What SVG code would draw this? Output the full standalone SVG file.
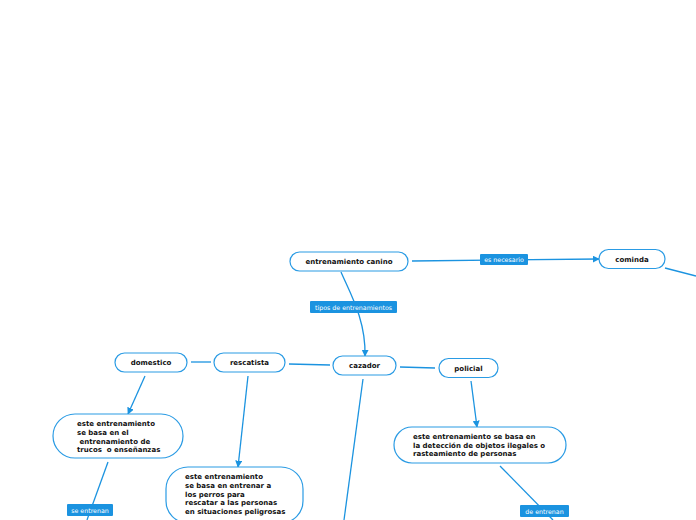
<svg xmlns="http://www.w3.org/2000/svg" width="696" height="520" viewBox="0 0 696 520">
<style>
.n{fill:#fff;stroke:#2a9be4;stroke-width:1.2}
.t{font-family:"DejaVu Sans",Verdana,sans-serif;font-weight:bold;font-size:7px;fill:#111;white-space:pre}
.e{fill:none;stroke:#1b93e0;stroke-width:1.3}
.lb{fill:#1b93e0}
.lt{font-family:"DejaVu Sans",Verdana,sans-serif;font-size:6.3px;fill:#fff}
</style>
<defs>
<marker id="a" viewBox="0 0 10 10" refX="9" refY="5" markerWidth="7" markerHeight="7" markerUnits="userSpaceOnUse" orient="auto">
<path d="M0,0L10,5L0,10z" fill="#1b93e0"/>
</marker>
</defs>
<rect width="696" height="520" fill="#fff"/>
<g id="connectors">
<path class="e" d="M412,261L599,259" marker-end="url(#a)"/>
<path class="e" d="M665,268L696,276"/>
<path class="e" d="M341,272C350,293 366,320 365,356" marker-end="url(#a)"/>
<path class="e" d="M191,362L211,362"/>
<path class="e" d="M289,364L330,365"/>
<path class="e" d="M400,367L435,368"/>
<path class="e" d="M145,376L128,414" marker-end="url(#a)"/>
<path class="e" d="M248,376L238,467" marker-end="url(#a)"/>
<path class="e" d="M363,379L344,520"/>
<path class="e" d="M471,381L477,427" marker-end="url(#a)"/>
<path class="e" d="M108,462L87,520"/>
<path class="e" d="M500,466L553,520"/>
<rect class="lb" x="480" y="254" width="48" height="11" rx="1"/>
<text class="lt" x="504" y="262" text-anchor="middle">es necesario</text>
<rect class="lb" x="310" y="301" width="87" height="12" rx="1"/>
<text class="lt" x="353.5" y="309.5" text-anchor="middle">tipos de entrenamientos</text>
<rect class="lb" x="67" y="504" width="46" height="12" rx="1"/>
<text class="lt" x="90" y="512.5" text-anchor="middle">se entrenan</text>
<rect class="lb" x="520" y="505" width="49" height="12" rx="1"/>
<text class="lt" x="544.5" y="513.5" text-anchor="middle">de entrenan</text>
</g>
<g id="n-entrenamiento">
<rect class="n" x="290" y="252" width="118" height="19" rx="9.5"/>
<text class="t" x="349" y="264" text-anchor="middle">entrenamiento canino</text>
</g>
<g id="n-cominda">
<rect class="n" x="599" y="249.5" width="66" height="19" rx="9.5"/>
<text class="t" x="632" y="262" text-anchor="middle">cominda</text>
</g>
<g id="n-cazador">
<rect class="n" x="333" y="356" width="63" height="19" rx="9.5"/>
<text class="t" x="364.5" y="368" text-anchor="middle">cazador</text>
</g>
<g id="n-domestico">
<rect class="n" x="115" y="353" width="72" height="19" rx="9.5"/>
<text class="t" x="151" y="365" text-anchor="middle">domestico</text>
</g>
<g id="n-rescatista">
<rect class="n" x="214" y="353" width="71" height="19" rx="9.5"/>
<text class="t" x="249.5" y="365" text-anchor="middle">rescatista</text>
</g>
<g id="n-policial">
<rect class="n" x="439" y="358.5" width="59" height="19" rx="9.5"/>
<text class="t" x="468.5" y="371" text-anchor="middle">policial</text>
</g>
<g id="n-domestico-desc">
<rect class="n" x="53" y="414" width="130" height="44" rx="22"/>
<text class="t" x="77" y="426">este entrenamiento</text>
<text class="t" x="77" y="435">se basa en el</text>
<text class="t" x="77" y="443.5"> entrenamiento de</text>
<text class="t" x="77" y="452">trucos  o enseñanzas</text>
</g>
<g id="n-rescatista-desc">
<rect class="n" x="166" y="467" width="137" height="56" rx="22"/>
<text class="t" x="185" y="479">este entrenamiento</text>
<text class="t" x="185" y="488">se basa en entrenar a</text>
<text class="t" x="185" y="496.5">los perros para</text>
<text class="t" x="185" y="505">rescatar a las personas</text>
<text class="t" x="185" y="513.5">en situaciones peligrosas</text>
</g>
<g id="n-policial-desc">
<rect class="n" x="394" y="427" width="172" height="36" rx="18"/>
<text class="t" x="413" y="439">este entrenamiento se basa en</text>
<text class="t" x="413" y="447.5">la detección de objetos ilegales o</text>
<text class="t" x="413" y="456">rasteamiento de personas</text>
</g>
</svg>
